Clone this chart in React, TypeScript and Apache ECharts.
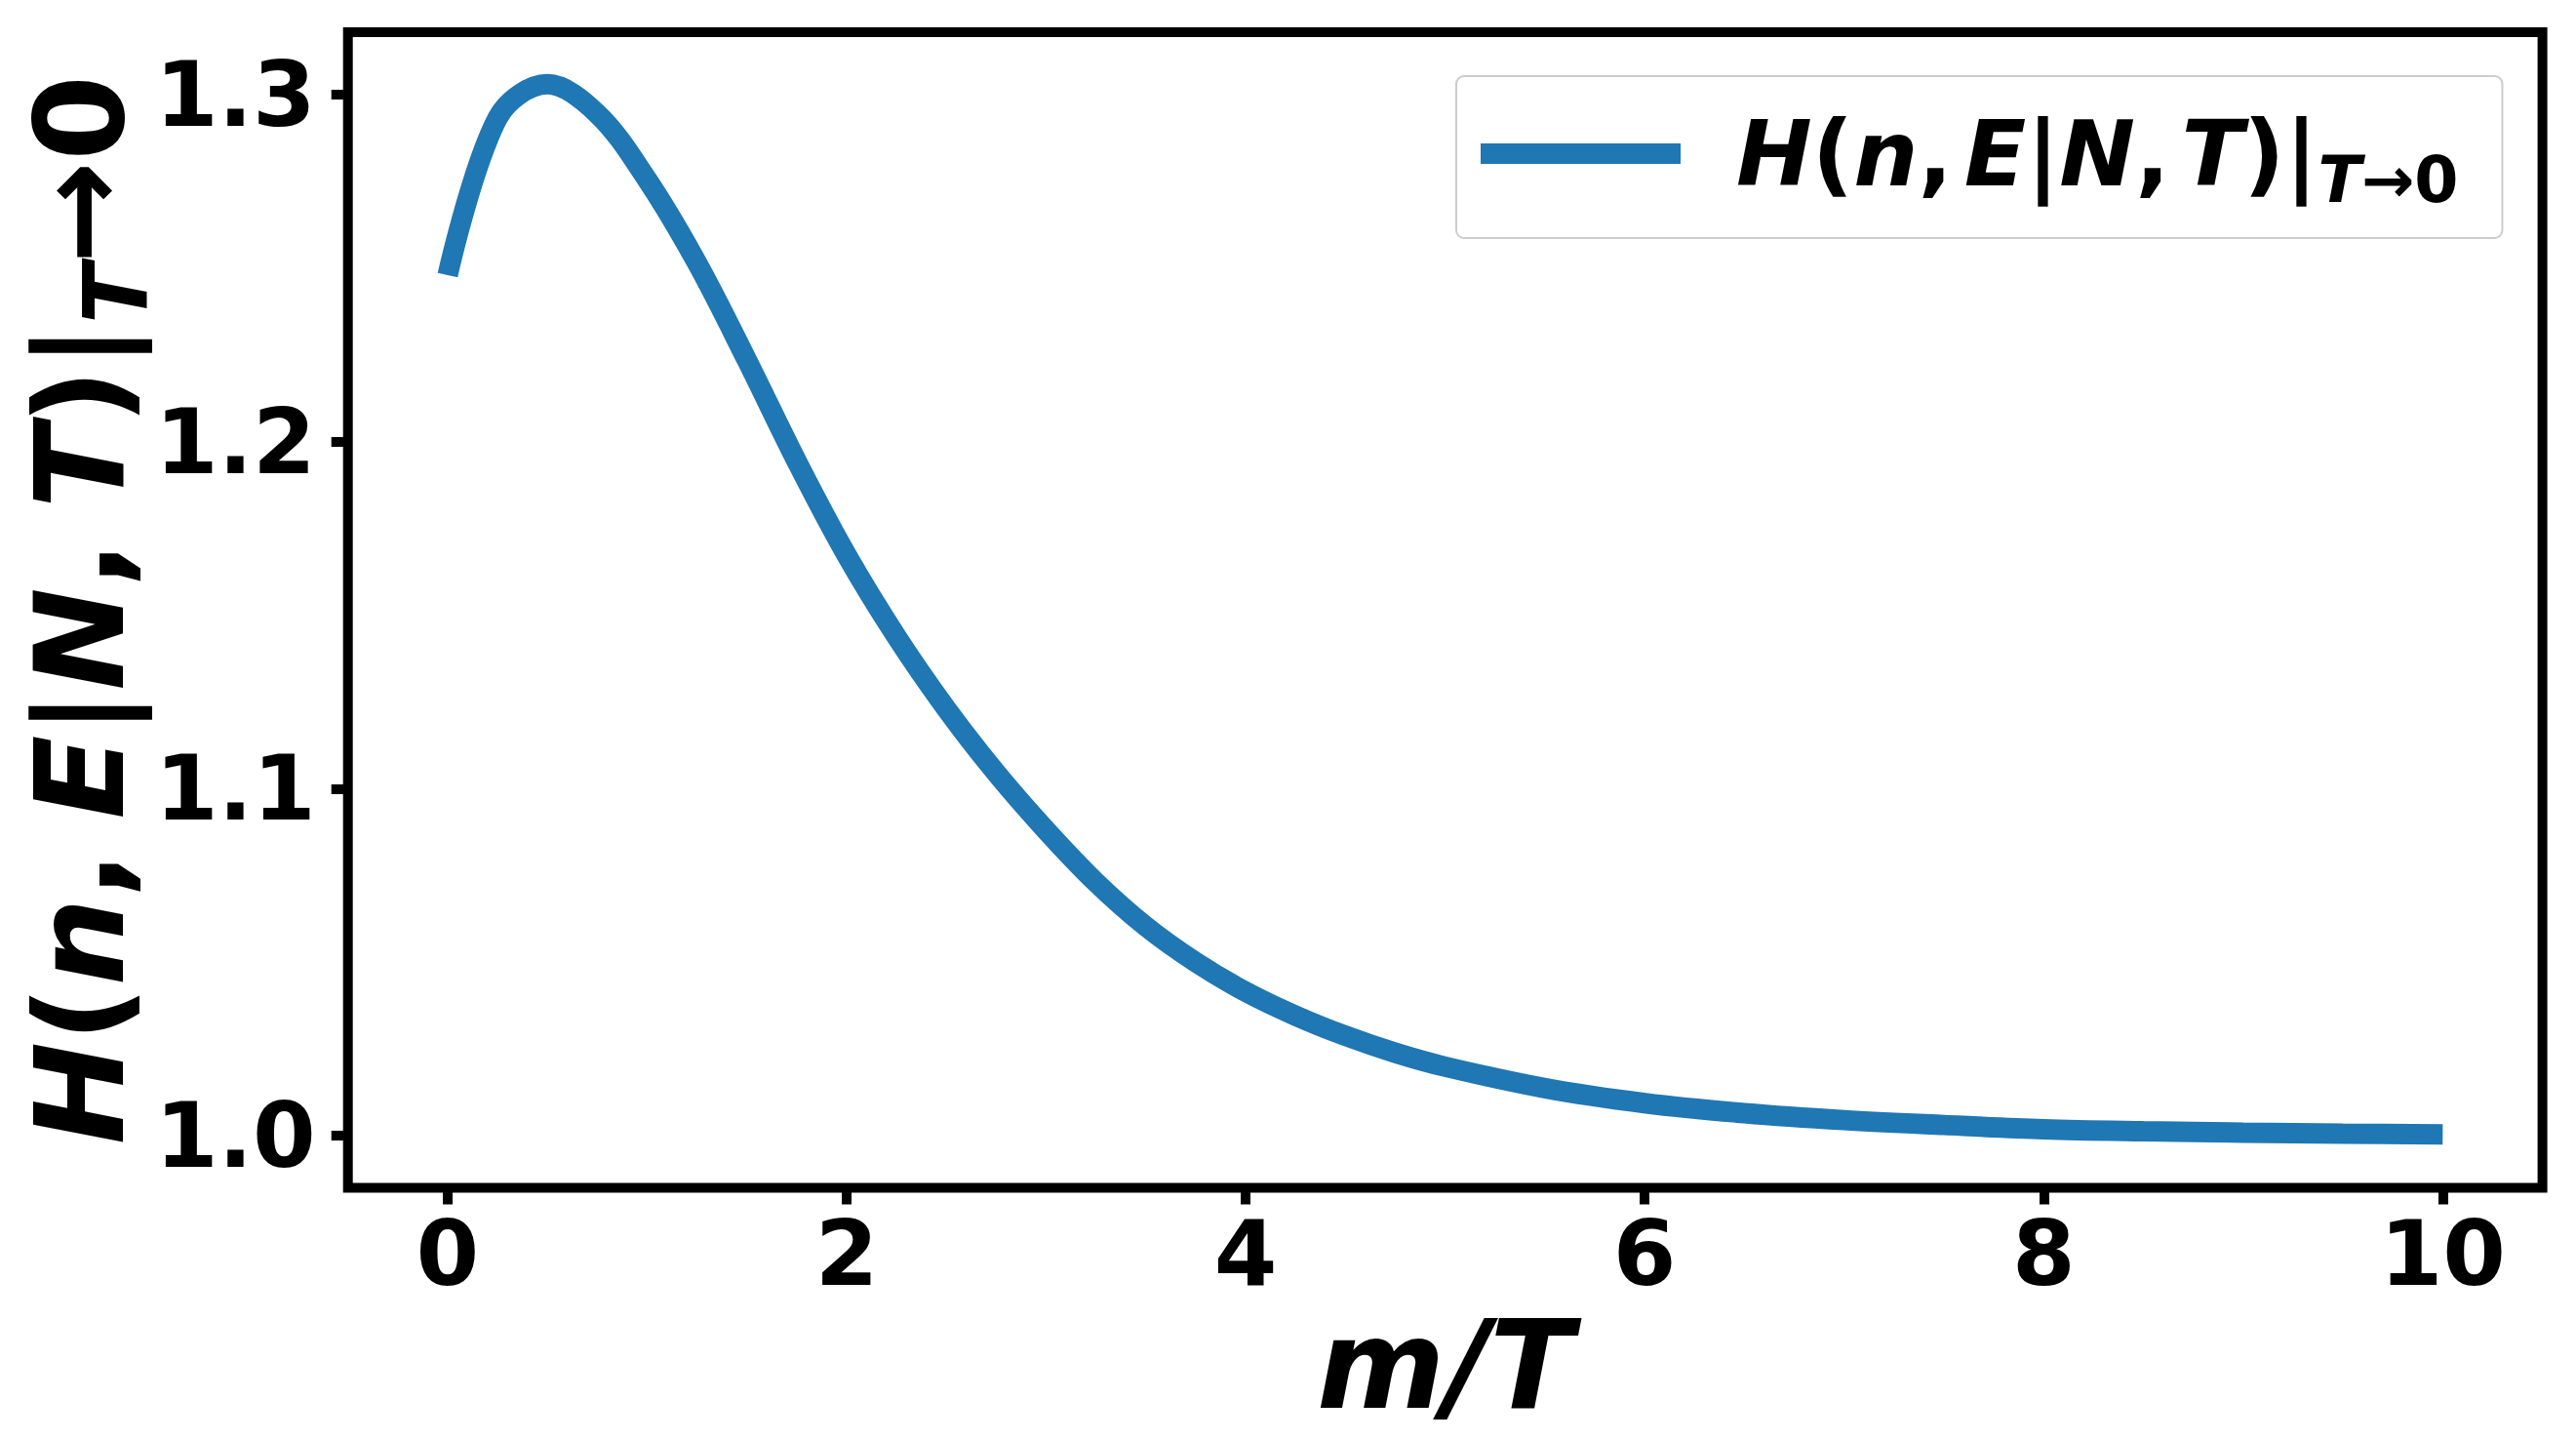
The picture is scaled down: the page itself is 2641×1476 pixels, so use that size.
import { useEffect, useRef } from 'react';
import * as echarts from 'echarts';

// m/T values and the curve
const mOverT = [
  0, 0.25, 0.5, 0.75, 1.0, 1.25, 1.5, 1.75, 2.0, 2.25, 2.5, 2.75, 3.0, 3.25, 3.5, 3.75, 4.0, 4.25,
  4.5, 4.75, 5.0, 5.5, 6.0, 6.5, 7.0, 7.5, 8.0, 8.5, 9.0, 9.5, 10.0,
];
const hValues = [
  1.248, 1.2932, 1.303, 1.2945, 1.2755, 1.2515, 1.2235, 1.1943, 1.1673, 1.1438, 1.123, 1.1045,
  1.088, 1.073, 1.0603, 1.05, 1.0415, 1.0346, 1.0288, 1.0239, 1.0199, 1.0137, 1.0094, 1.0065,
  1.0045, 1.0031, 1.0019, 1.0013, 1.0009, 1.0006, 1.0004,
];
const xTicks = [0, 2, 4, 6, 8, 10];
const yTicks = [1.0, 1.1, 1.2, 1.3];
const seriesName = 'H(n, E|N, T)|T→0';

const FONT = 'DejaVu Sans';
const W = 2641;
const H = 1476;

const tok = (size: number, italic: boolean, extra: Record<string, unknown> = {}) => ({
  fontFamily: FONT,
  fontWeight: 'bold',
  fontStyle: italic ? 'italic' : 'normal',
  fontSize: size,
  lineHeight: size,
  color: '#000',
  verticalAlign: 'top',
  ...extra,
});

export default function App() {
  const ref = useRef<HTMLDivElement>(null);

  useEffect(() => {
    if (!ref.current) return;
    const chart = echarts.init(ref.current, undefined, { renderer: 'svg' });

    const tickLabel = {
      fontFamily: FONT,
      fontWeight: 'bold',
      fontSize: 93,
      lineHeight: 93,
      color: '#000',
    };

    chart.setOption({
      animation: false,
      backgroundColor: '#fff',
      grid: {
        left: 356.7,
        right: 34.4,
        top: 33,
        bottom: 258.5,
        show: true,
        borderColor: '#000',
        borderWidth: 10,
      },
      xAxis: {
        type: 'value',
        min: -0.5,
        max: 10.5,
        axisLine: { show: false, onZero: false },
        splitLine: { show: false },
        axisTick: {
          show: true,
          customValues: xTicks,
          length: 17,
          lineStyle: { color: '#000', width: 10 },
        },
        axisLabel: { ...tickLabel, customValues: xTicks, margin: 21 },
        name: '{i|m/T}',
        nameLocation: 'middle',
        nameGap: 119,
        nameMoveOverlap: false,
        nameTextStyle: { rich: { i: tok(126, true) } },
      },
      yAxis: {
        type: 'value',
        min: 0.985,
        max: 1.318,
        axisLine: { show: false, onZero: false },
        splitLine: { show: false },
        axisTick: {
          show: true,
          customValues: yTicks,
          length: 17,
          lineStyle: { color: '#000', width: 10 },
        },
        axisLabel: {
          ...tickLabel,
          customValues: yTicks,
          margin: 33,
          formatter: (v: number) => v.toFixed(1),
        },
        name: '{i|H}{n|(}{i|n}{c|,}{i|E}{n||}{i|N}{c|,}{i|T}{n|)|}{s|T}{n|→0}',
        nameLocation: 'middle',
        nameRotate: 90,
        nameGap: 211,
        nameMoveOverlap: false,
        nameTextStyle: {
          rich: {
            i: tok(126, true),
            n: tok(126, false),
            c: tok(126, false, { padding: [0, 33, 0, 0] }),
            s: tok(90, true, { padding: [53.5, 0, 0, 0] }),
          },
        },
      },
      legend: {
        left: 1493,
        top: 78,
        orient: 'vertical',
        padding: [33, 45, 19, 25],
        backgroundColor: '#fff',
        borderColor: '#cccccc',
        borderWidth: 2,
        borderRadius: 8,
        itemWidth: 205,
        itemHeight: 21,
        itemStyle: { borderWidth: 0 },
        data: [{ name: seriesName, icon: 'rect' }],
        formatter: () => '{l|H}{n|(}{i|n}{c|,}{i|E}{n||}{i|N}{c|,}{i|T}{n|)|}{s|T}{sn|→0}',
        textStyle: {
          rich: {
            l: tok(93, true, { padding: [0, 0, 0, 52] }),
            i: tok(93, true),
            n: tok(93, false),
            c: tok(93, false, { padding: [0, 12, 0, 0] }),
            s: tok(65, true, { padding: [41, 0, 8, 0] }),
            sn: tok(65, false, { padding: [41, 0, 8, 0] }),
          },
        },
      },
      series: [
        {
          name: seriesName,
          type: 'line',
          data: mOverT.map((x, i) => [x, hValues[i]]),
          smooth: 0.35,
          showSymbol: false,
          symbol: 'none',
          color: '#1f77b4',
          lineStyle: { color: '#1f77b4', width: 21, cap: 'butt' },
        },
      ],
    });

    return () => {
      chart.dispose();
    };
  }, []);

  return (
    <div
      ref={ref}
      style={{ position: 'fixed', left: 0, top: 0, width: W, height: H, background: '#fff' }}
    />
  );
}
